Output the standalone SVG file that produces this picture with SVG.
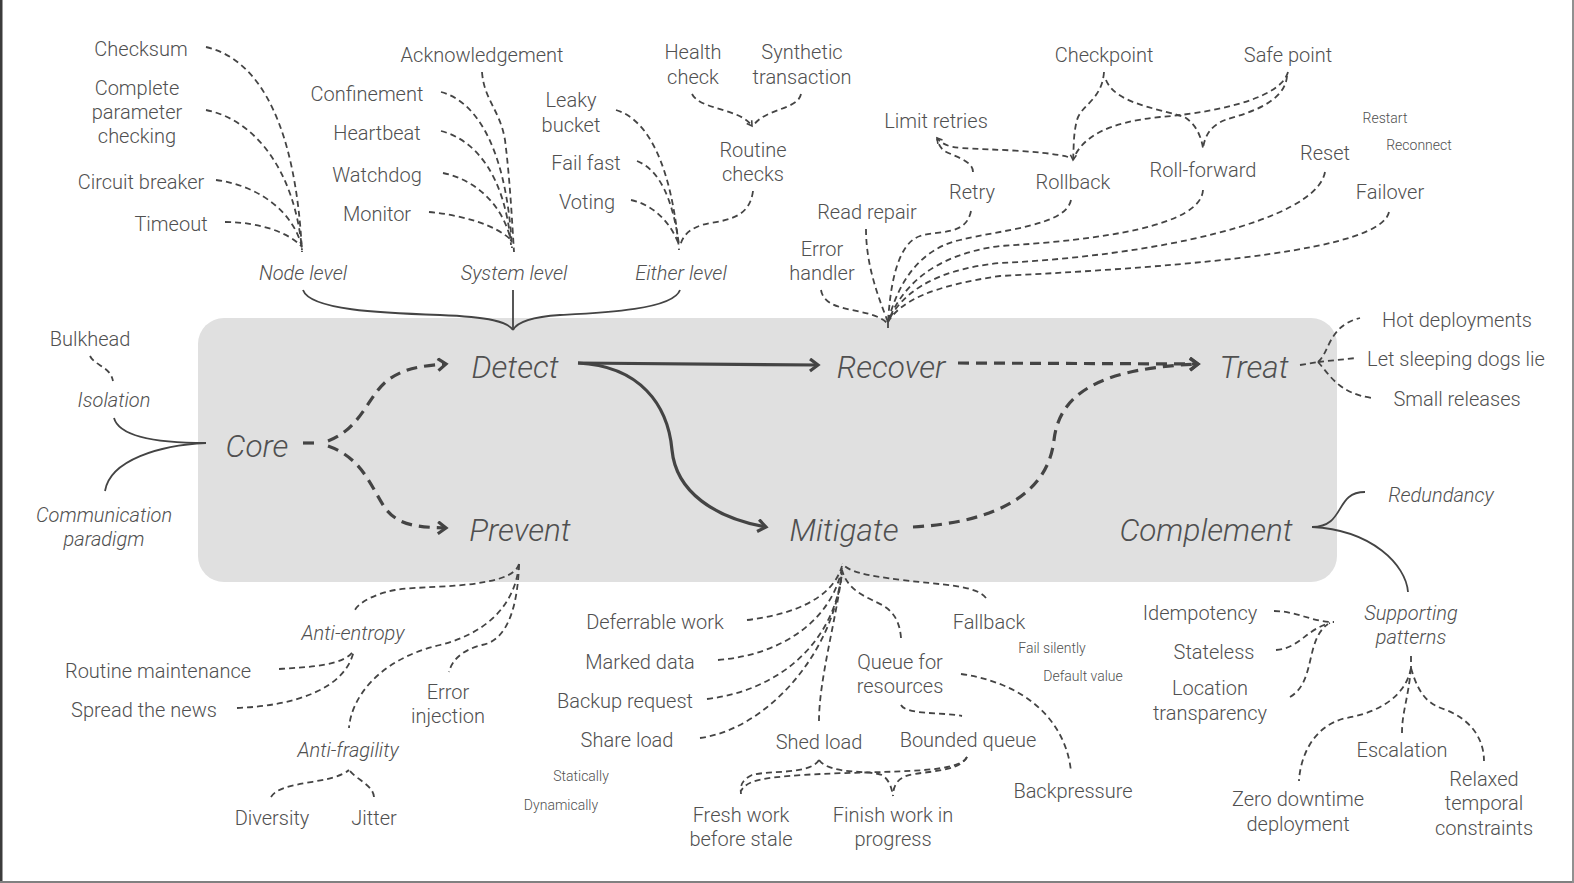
<svg xmlns="http://www.w3.org/2000/svg" width="1574" height="883" viewBox="0 0 1574 883">
<style>
text{font-family:Roboto,"Liberation Sans",sans-serif;font-weight:300;fill:#505050;text-anchor:middle}
.t{font-size:20px}
.i{font-size:20px;font-style:italic}
.s{font-size:14px}
.m{font-size:31.5px;font-style:italic}
.d{fill:none;stroke:#444;stroke-width:1.8;stroke-dasharray:6 4}
.l{fill:none;stroke:#444;stroke-width:1.8}
.a{fill:none;stroke:#444;stroke-width:3.2}
.ad{fill:none;stroke:#444;stroke-width:3.2;stroke-dasharray:11 7}
</style>
<defs>
<marker id="arr" markerUnits="userSpaceOnUse" markerWidth="16" markerHeight="16" refX="10" refY="7" orient="auto">
<path d="M2,1 L10,7 L2,13" fill="none" stroke="#444" stroke-width="3.2"/>
</marker>
<marker id="tip" markerUnits="userSpaceOnUse" markerWidth="10" markerHeight="10" refX="6" refY="4" orient="auto">
<path d="M1,1 L6,4 L1,7" fill="none" stroke="#444" stroke-width="1.6"/>
</marker>
</defs>
<rect width="1574" height="883" fill="#fff"/>
<rect x="0" y="0" width="2.5" height="883" fill="#3c3c3c"/>
<rect x="0" y="881" width="1574" height="2" fill="#808080"/>
<rect x="1572" y="0" width="2" height="883" fill="#909090"/>
<rect id="core-panel" x="198" y="318" width="1139" height="264" rx="26" fill="#e0e0e0"/>

<g id="connectors">
<path class="ad" d="M303,443 L316,443"/>
<path class="ad" d="M328,441 C362,428 368,395 388,380 C405,368 420,366 446,364" marker-end="url(#arr)"/>
<path class="ad" d="M328,446 C362,458 370,485 385,508 C398,525 415,527 446,528" marker-end="url(#arr)"/>
<path class="a" d="M578,363 L818,365" marker-end="url(#arr)"/>
<path class="a" d="M578,363 C640,366 668,405 672,450 C676,492 715,518 766,527" marker-end="url(#arr)"/>
<path class="ad" d="M958,363 L1198,364" marker-end="url(#arr)"/>
<path class="ad" d="M913,527 C1000,522 1048,492 1054,440 C1060,388 1110,368 1198,364" marker-end="url(#arr)"/>
<path class="d" d="M90,356 C95,366 110,366 113,381"/>
<path class="l" d="M114,418 C120,440 172,443 206,443"/>
<path class="l" d="M105,491 C110,460 160,445 206,443"/>
<path class="l" d="M303,290 C310,310 380,313 440,315 C490,317 508,322 513,330"/>
<path class="l" d="M680,290 C673,310 600,313 560,315 C530,317 517,322 513,330"/>
<path class="l" d="M513,290 L513,330"/>
<path class="d" d="M206,47 C262,60 296,130 302,252"/>
<path class="d" d="M206,110 C256,120 295,172 302,250"/>
<path class="d" d="M216,180 C262,186 295,215 302,248"/>
<path class="d" d="M225,222 C262,222 290,234 301,246"/>
<path class="d" d="M482,72 C484,100 500,110 505,140 C510,180 512,220 514,252"/>
<path class="d" d="M441,92 C472,100 506,140 512,248"/>
<path class="d" d="M441,131 C476,140 505,176 511,245"/>
<path class="d" d="M443,173 C476,180 503,205 511,241"/>
<path class="d" d="M429,212 C462,215 496,225 511,240"/>
<path class="d" d="M616,110 C650,120 672,170 679,250"/>
<path class="d" d="M637,161 C660,170 673,200 679,245"/>
<path class="d" d="M631,200 C655,205 672,225 679,245"/>
<path class="d" d="M753,191 C750,216 730,220 710,223 C690,227 683,235 680,246"/>
<path class="d" d="M692,94 C700,110 740,108 752,126" marker-end="url(#tip)"/>
<path class="d" d="M801,94 C798,110 765,108 753,126"/>
<path class="d" d="M888,322 L888,331"/>
<path class="d" d="M821,290 C825,315 872,306 888,324"/>
<path class="d" d="M866,229 C866,262 876,292 888,322"/>
<path class="d" d="M971,211 C966,236 940,230 920,236 C896,244 890,290 888,322"/>
<path class="d" d="M1071,200 C1066,226 1000,230 960,240 C915,250 896,290 888,322"/>
<path class="d" d="M1203,190 C1201,226 1100,240 1000,246 C930,255 900,290 888,322"/>
<path class="d" d="M1325,172 C1316,222 1150,256 1000,263 C930,270 900,296 888,322"/>
<path class="d" d="M1389,212 C1381,250 1200,266 1000,276 C930,286 900,302 888,322"/>
<path class="d" d="M1104,72 C1102,100 1081,105 1077,120 C1073,135 1074,148 1073,160" marker-end="url(#tip)"/>
<path class="d" d="M1106,80 C1116,106 1170,110 1186,118 C1196,125 1201,136 1203,148"/>
<path class="d" d="M1288,72 C1280,102 1200,114 1160,117 C1110,122 1082,136 1073,160"/>
<path class="d" d="M1287,76 C1285,105 1240,115 1225,120 C1210,126 1205,136 1203,148"/>
<path class="d" d="M1068,157 C1040,150 990,150 962,148 C948,147 942,144 937,138" marker-end="url(#tip)"/>
<path class="d" d="M973,172 C973,160 952,156 943,150 C940,147 938,143 937,139"/>
<path class="d" d="M1300,365 L1318,362"/>
<path class="d" d="M1318,362 C1330,352 1328,326 1360,318"/>
<path class="d" d="M1318,362 L1356,358"/>
<path class="d" d="M1318,362 C1330,375 1338,393 1372,398"/>
<path class="l" d="M1312,527 C1346,527 1334,492 1365,492"/>
<path class="l" d="M1312,527 C1372,530 1406,565 1408,592"/>
<path class="d" d="M1274,611 C1296,611 1312,622 1334,622"/>
<path class="d" d="M1276,650 C1300,648 1305,630 1330,623"/>
<path class="d" d="M1290,697 C1316,682 1305,640 1328,624"/>
<path class="d" d="M1411,656 L1411,668"/>
<path class="d" d="M1411,668 C1405,700 1372,714 1346,718 C1311,726 1300,760 1299,781"/>
<path class="d" d="M1411,668 C1408,700 1402,712 1402,733"/>
<path class="d" d="M1411,668 C1420,700 1432,705 1446,710 C1472,720 1484,740 1484,761"/>
<path class="d" d="M519,564 C512,590 420,585 395,590 C370,595 356,605 354,612"/>
<path class="d" d="M519,564 C515,610 480,635 440,645 C376,660 351,700 349,728"/>
<path class="d" d="M519,564 C518,600 510,640 482,645 C462,650 452,660 449,672"/>
<path class="d" d="M279,669 C312,667 346,665 354,650"/>
<path class="d" d="M237,708 C292,706 346,690 354,650"/>
<path class="d" d="M271,797 C281,780 331,785 349,770"/>
<path class="d" d="M374,797 C373,785 357,780 349,770"/>
<path class="d" d="M747,620 C790,615 832,600 842,566"/>
<path class="d" d="M718,660 C782,655 832,620 842,568"/>
<path class="d" d="M707,699 C782,690 836,640 842,570"/>
<path class="d" d="M700,738 C762,730 832,660 842,572"/>
<path class="d" d="M819,721 C819,680 836,620 842,573"/>
<path class="d" d="M901,638 C899,610 882,605 872,600 C857,593 846,585 842,570"/>
<path class="d" d="M986,598 C976,585 942,585 902,580 C862,575 851,572 842,564"/>
<path class="d" d="M901,705 C906,715 942,712 962,716"/>
<path class="d" d="M961,674 C1042,686 1068,736 1071,772"/>
<path class="d" d="M819,760 C810,775 770,770 752,775 C742,780 740,785 741,794"/>
<path class="d" d="M819,760 C830,775 870,770 882,775 C890,780 892,790 893,796"/>
<path class="d" d="M967,757 C958,775 882,770 802,775 C762,778 747,780 741,791"/>
<path class="d" d="M967,757 C958,775 912,770 902,778 C895,782 893,790 893,796"/>
</g>

<g id="labels" transform="translate(0,2)">
<g id="n-core"><text class="m" x="257" y="455">Core</text></g>
<g id="n-detect"><text class="m" x="515" y="376">Detect</text></g>
<g id="n-prevent"><text class="m" x="520" y="539">Prevent</text></g>
<g id="n-recover"><text class="m" x="891" y="376">Recover</text></g>
<g id="n-mitigate"><text class="m" x="844" y="539">Mitigate</text></g>
<g id="n-treat"><text class="m" x="1254" y="376">Treat</text></g>
<g id="n-complement"><text class="m" x="1206" y="539">Complement</text></g>

<g id="n-bulkhead"><text class="t" x="90" y="344">Bulkhead</text></g>
<g id="n-isolation"><text class="i" x="114" y="405">Isolation</text></g>
<g id="n-communication"><text class="i" x="104" y="520">Communication</text><text class="i" x="104" y="544">paradigm</text></g>

<g id="n-checksum"><text class="t" x="141" y="54">Checksum</text></g>
<g id="n-complete"><text class="t" x="137" y="93">Complete</text><text class="t" x="137" y="117">parameter</text><text class="t" x="137" y="141">checking</text></g>
<g id="n-circuit"><text class="t" x="141" y="187">Circuit breaker</text></g>
<g id="n-timeout"><text class="t" x="171" y="229">Timeout</text></g>
<g id="n-nodelevel"><text class="i" x="303" y="278">Node level</text></g>
<g id="n-ack"><text class="t" x="482" y="60">Acknowledgement</text></g>
<g id="n-confinement"><text class="t" x="367" y="99">Confinement</text></g>
<g id="n-heartbeat"><text class="t" x="377" y="138">Heartbeat</text></g>
<g id="n-watchdog"><text class="t" x="377" y="180">Watchdog</text></g>
<g id="n-monitor"><text class="t" x="377" y="219">Monitor</text></g>
<g id="n-systemlevel"><text class="i" x="514" y="278">System level</text></g>
<g id="n-leaky"><text class="t" x="571" y="105">Leaky</text><text class="t" x="571" y="130">bucket</text></g>
<g id="n-failfast"><text class="t" x="586" y="168">Fail fast</text></g>
<g id="n-voting"><text class="t" x="587" y="207">Voting</text></g>
<g id="n-eitherlevel"><text class="i" x="681" y="278">Either level</text></g>
<g id="n-health"><text class="t" x="693" y="57">Health</text><text class="t" x="693" y="82">check</text></g>
<g id="n-synthetic"><text class="t" x="802" y="57">Synthetic</text><text class="t" x="802" y="82">transaction</text></g>
<g id="n-routine"><text class="t" x="753" y="155">Routine</text><text class="t" x="753" y="179">checks</text></g>

<g id="n-limit"><text class="t" x="936" y="126">Limit retries</text></g>
<g id="n-readrepair"><text class="t" x="867" y="217">Read repair</text></g>
<g id="n-errorhandler"><text class="t" x="822" y="254">Error</text><text class="t" x="822" y="278">handler</text></g>
<g id="n-retry"><text class="t" x="972" y="197">Retry</text></g>
<g id="n-checkpoint"><text class="t" x="1104" y="60">Checkpoint</text></g>
<g id="n-safepoint"><text class="t" x="1288" y="60">Safe point</text></g>
<g id="n-rollback"><text class="t" x="1073" y="187">Rollback</text></g>
<g id="n-rollforward"><text class="t" x="1203" y="175">Roll-forward</text></g>
<g id="n-reset"><text class="t" x="1325" y="158">Reset</text></g>
<g id="n-restart"><text class="s" x="1385" y="121">Restart</text></g>
<g id="n-reconnect"><text class="s" x="1419" y="148">Reconnect</text></g>
<g id="n-failover"><text class="t" x="1390" y="197">Failover</text></g>

<g id="n-hot"><text class="t" x="1457" y="325">Hot deployments</text></g>
<g id="n-dogs"><text class="t" x="1456" y="364">Let sleeping dogs lie</text></g>
<g id="n-small"><text class="t" x="1457" y="404">Small releases</text></g>

<g id="n-redundancy"><text class="i" x="1441" y="500">Redundancy</text></g>
<g id="n-supporting"><text class="i" x="1411" y="618">Supporting</text><text class="i" x="1411" y="642">patterns</text></g>
<g id="n-idempotency"><text class="t" x="1200" y="618">Idempotency</text></g>
<g id="n-stateless"><text class="t" x="1214" y="657">Stateless</text></g>
<g id="n-location"><text class="t" x="1210" y="693">Location</text><text class="t" x="1210" y="718">transparency</text></g>
<g id="n-escalation"><text class="t" x="1402" y="755">Escalation</text></g>
<g id="n-zero"><text class="t" x="1298" y="804">Zero downtime</text><text class="t" x="1298" y="829">deployment</text></g>
<g id="n-relaxed"><text class="t" x="1484" y="784">Relaxed</text><text class="t" x="1484" y="808">temporal</text><text class="t" x="1484" y="833">constraints</text></g>

<g id="n-antientropy"><text class="i" x="353" y="638">Anti-entropy</text></g>
<g id="n-routinemaint"><text class="t" x="158" y="676">Routine maintenance</text></g>
<g id="n-spread"><text class="t" x="144" y="715">Spread the news</text></g>
<g id="n-antifragility"><text class="i" x="348" y="755">Anti-fragility</text></g>
<g id="n-errorinjection"><text class="t" x="448" y="697">Error</text><text class="t" x="448" y="721">injection</text></g>
<g id="n-diversity"><text class="t" x="272" y="823">Diversity</text></g>
<g id="n-jitter"><text class="t" x="374" y="823">Jitter</text></g>

<g id="n-deferrable"><text class="t" x="655" y="627">Deferrable work</text></g>
<g id="n-marked"><text class="t" x="640" y="667">Marked data</text></g>
<g id="n-backup"><text class="t" x="625" y="706">Backup request</text></g>
<g id="n-shareload"><text class="t" x="627" y="745">Share load</text></g>
<g id="n-statically"><text class="s" x="581" y="779">Statically</text></g>
<g id="n-dynamically"><text class="s" x="561" y="808">Dynamically</text></g>
<g id="n-shedload"><text class="t" x="819" y="747">Shed load</text></g>
<g id="n-queue"><text class="t" x="900" y="667">Queue for</text><text class="t" x="900" y="691">resources</text></g>
<g id="n-fallback"><text class="t" x="989" y="627">Fallback</text></g>
<g id="n-failsilently"><text class="s" x="1052" y="651">Fail silently</text></g>
<g id="n-default"><text class="s" x="1083" y="679">Default value</text></g>
<g id="n-bounded"><text class="t" x="968" y="745">Bounded queue</text></g>
<g id="n-backpressure"><text class="t" x="1073" y="796">Backpressure</text></g>
<g id="n-fresh"><text class="t" x="741" y="820">Fresh work</text><text class="t" x="741" y="844">before stale</text></g>
<g id="n-finish"><text class="t" x="893" y="820">Finish work in</text><text class="t" x="893" y="844">progress</text></g>
</g>
</svg>
